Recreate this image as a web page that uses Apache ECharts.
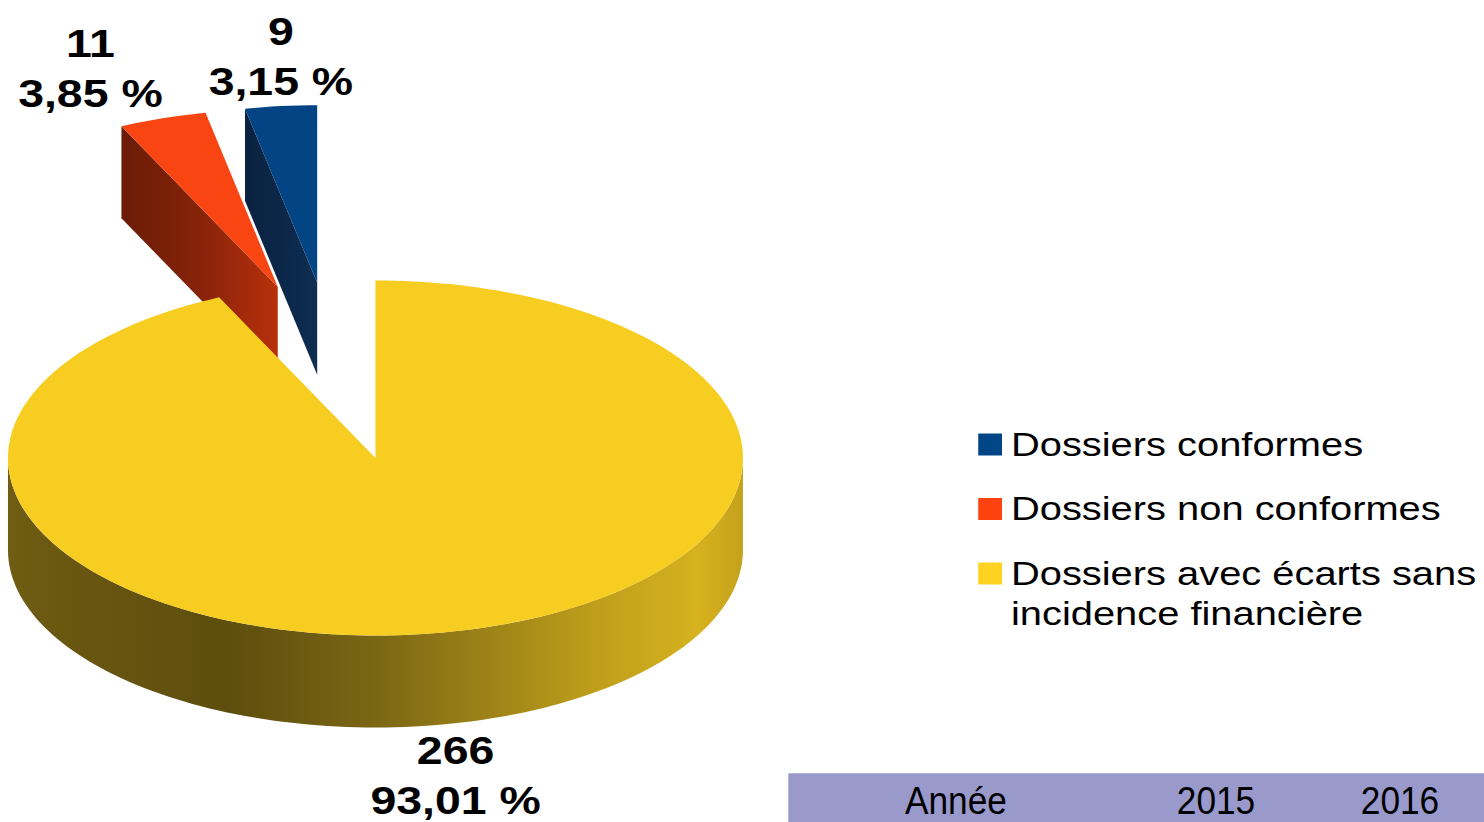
<!DOCTYPE html>
<html>
<head>
<meta charset="utf-8">
<script src="https://cdn.jsdelivr.net/npm/echarts@6/dist/echarts.min.js"></script>
<style>
  html, body { margin: 0; padding: 0; background: #ffffff; overflow: hidden; }
  #main { width: 1247px; height: 822px; transform: scaleX(1.19006); transform-origin: 0 0; }
</style>
</head>
<body>
<div id="main"></div>
<script>
// ---------------- data ----------------
const categories = ['Dossiers conformes', 'Dossiers non conformes', 'Dossiers avec écarts sans incidence financière'];
const values = [9, 11, 266];
const tableHeader = ['Année', '2015', '2016'];

// ---------------- style ----------------
const FONT = '"Liberation Sans", Arial, sans-serif';
const LEGEND_COLORS = ['#004586', '#ff420e', '#ffd320'];
const TOP_COLORS = ['#034484', '#f84512', '#f7cd22'];
const WALL_STOPS = [
  [[0, '#0a2240'], [1, '#0d2d52']],
  [[0, '#6a1c06'], [0.5, '#862309'], [1, '#b8300c']],
  [[0, '#6f5d13'], [0.1, '#685610'], [0.3, '#5e4e0e'], [0.5, '#7b6614'], [0.65, '#9c8217'],
   [0.8, '#bf9e1b'], [0.94, '#d6b21f'], [1, '#c4a11b']]
];
const EXPLODE = [1, 1, 0];           // explode distance, as a fraction of the radius
const PIE = { cx: 315.5, cy: 458, rx: 308.8, ry: 177.5, depth: 92 };
const LABEL = { font: 'bold 39px ' + FONT, lineHeight: 50, downGap: 2 };
const TABLE = { x: 662.4, y: 773.3, h: 60, color: '#9999cc', textY: 800.6, cols: [803.3, 1021.8, 1176.4], scaleX: 0.78, font: '38px ' + FONT };

// ---------------- geometry helpers ----------------
const total = values.reduce((a, b) => a + b, 0);
const RAD = Math.PI / 180;
const measureCtx = document.createElement('canvas').getContext('2d');
function blockWidth(str, font) {
  measureCtx.font = font;
  return Math.max.apply(null, str.split('\n').map(s => measureCtx.measureText(s).width));
}
function sliceAngles(k) {         // counter-clockwise from 12 o'clock, in degrees
  let s = 0;
  for (let i = 0; i < k; i++) s += values[i];
  return [s / total * 360, (s + values[k]) / total * 360];
}
function explodedMid() {
  let lo = Infinity, hi = -Infinity;
  values.forEach((v, i) => {
    if (EXPLODE[i]) { const a = sliceAngles(i); lo = Math.min(lo, a[0]); hi = Math.max(hi, a[1]); }
  });
  return (lo + hi) / 2;
}
function pt(ox, oy, a, dz) {
  return [ox - PIE.rx * Math.sin(a * RAD), oy - PIE.ry * Math.cos(a * RAD) + (dz || 0)];
}
function arc(ox, oy, a0, a1, dz) {
  const n = Math.max(2, Math.ceil((a1 - a0) / 1.5));
  const pts = [];
  for (let i = 0; i <= n; i++) pts.push(pt(ox, oy, a0 + (a1 - a0) * i / n, dz));
  return pts;
}
function wallFill(k, pts) {
  let mn = Infinity, mx = -Infinity;
  pts.forEach(p => { mn = Math.min(mn, p[0]); mx = Math.max(mx, p[0]); });
  if (k === 2) { mn = PIE.cx - PIE.rx; mx = PIE.cx + PIE.rx; }
  return new echarts.graphic.LinearGradient(mn, 0, mx, 0,
    WALL_STOPS[k].map(s => ({ offset: s[0], color: s[1] })), true);
}
function fmtPct(v) {
  return (v / total * 100).toFixed(2).replace('.', ',') + ' %';
}

function renderSlice(params, api) {
  const k = params.seriesIndex;
  const v = api.value(0);
  const [a0, a1] = sliceAngles(k);
  const mid = (a0 + a1) / 2;
  let ox = PIE.cx, oy = PIE.cy;
  if (EXPLODE[k]) {
    const psi = (mid + explodedMid()) / 2;
    ox -= EXPLODE[k] * PIE.rx * Math.sin(psi * RAD);
    oy -= EXPLODE[k] * PIE.ry * Math.cos(psi * RAD);
  }
  const d = PIE.depth;
  const children = [];
  // radial walls
  [[a1, Math.sin(a1 * RAD) > 1e-6], [a0, Math.sin(a0 * RAD) < -1e-6]].forEach(([a, vis]) => {
    if (!vis) return;
    const p = pt(ox, oy, a), pb = pt(ox, oy, a, d);
    const pts = [[ox, oy], p, pb, [ox, oy + d]];
    children.push({ type: 'polygon', z2: 0, shape: { points: pts }, style: { fill: wallFill(k, pts) } });
  });
  // curved outer wall (front half only)
  const lo = Math.max(a0, 90), hi = Math.min(a1, 270);
  if (hi > lo) {
    const top = arc(ox, oy, lo, hi, 0);
    const bot = arc(ox, oy, lo, hi, d).reverse();
    const pts = top.concat(bot);
    children.push({ type: 'polygon', z2: 0, shape: { points: pts }, style: { fill: wallFill(k, pts) } });
  }
  // top face
  children.push({
    type: 'polygon', z2: 1,
    shape: { points: [[ox, oy]].concat(arc(ox, oy, a0, a1, 0)) },
    style: { fill: TOP_COLORS[k] }
  });
  // label: block anchored at the outer arc, lines centred within the block
  const s = Math.sin(mid * RAD), c = Math.cos(mid * RAD);
  const anchor = pt(ox, oy, mid, c < 0 ? d + LABEL.downGap : 0);
  const text = v + '\n' + fmtPct(v);
  const w = blockWidth(text, LABEL.font);
  let x = anchor[0];
  if (Math.abs(s) >= 0.25) x += (s > 0 ? -w / 2 : w / 2);
  children.push({
    type: 'text', z2: 2,
    style: {
      text: text,
      x: x, y: anchor[1],
      align: 'center', verticalAlign: c > 0 ? 'bottom' : 'top',
      font: LABEL.font, lineHeight: LABEL.lineHeight, fill: '#000'
    }
  });
  return { type: 'group', children: children };
}

const chart = echarts.init(document.getElementById('main'), null, { renderer: 'svg' });
const legendLines = n => n.replace(' sans ', ' sans\n').split('\n');
chart.setOption({
  animation: false,
  backgroundColor: '#ffffff',
  legend: {
    orient: 'vertical', left: 822, top: 384.5, padding: 0,
    itemWidth: 20, itemHeight: 22, itemGap: -55.5,
    icon: 'rect', selectedMode: false,
    formatter: n => legendLines(n).map(s => '{t|' + s + '}').join('\n'),
    textStyle: {
      fontFamily: FONT, fontSize: 33.5, lineHeight: 40, color: '#000', padding: [40, 0, 40, 2.5],
      rich: { t: { fontFamily: FONT, fontSize: 33.5, lineHeight: 40, color: '#000' } }
    },
    data: categories.map(n => ({
      name: n,
      textStyle: { padding: legendLines(n).length > 1 ? [40, 0, 0, 2.5] : [40, 0, 40, 2.5] }
    }))
  },
  series: categories.map((name, k) => ({
    type: 'custom',
    name: name,
    coordinateSystem: 'none',
    silent: true,
    z: EXPLODE[k] ? 2 : 3,
    itemStyle: { color: LEGEND_COLORS[k] },
    data: [[values[k]]],
    renderItem: renderSlice
  })),
  graphic: [
    { type: 'rect', shape: { x: TABLE.x, y: TABLE.y, width: 1247 - TABLE.x, height: TABLE.h }, style: { fill: TABLE.color }, silent: true }
  ].concat(tableHeader.map((t, i) => ({
    type: 'text', x: TABLE.cols[i], y: TABLE.textY, scaleX: TABLE.scaleX, silent: true,
    style: { text: t, align: 'center', verticalAlign: 'middle', textAlign: 'center', textVerticalAlign: 'middle', font: TABLE.font, fill: '#000' }
  })))
});
</script>
</body>
</html>
